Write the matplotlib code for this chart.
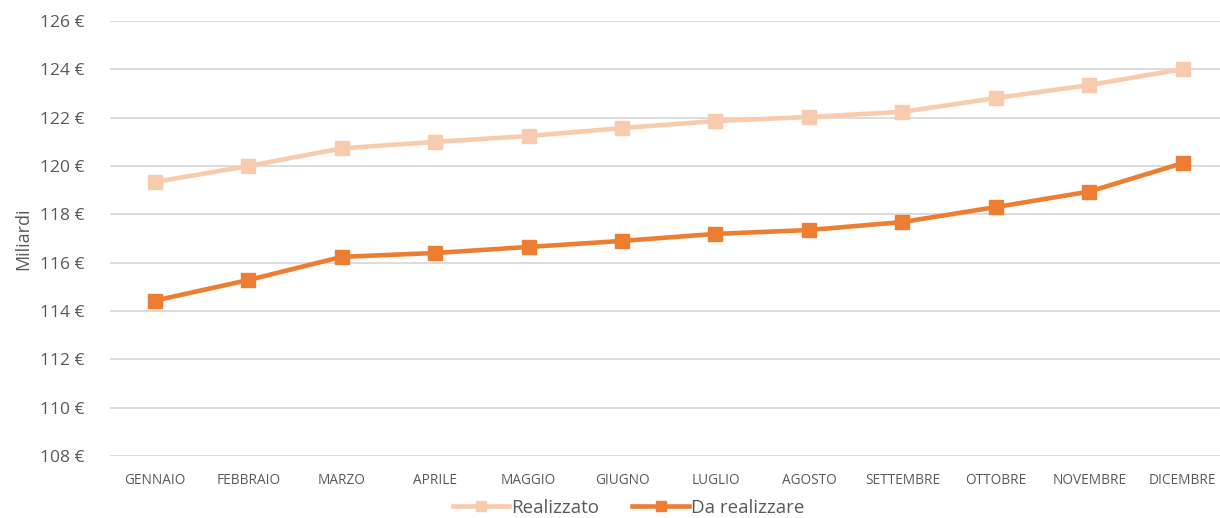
import matplotlib.pyplot as plt
from matplotlib.ticker import FuncFormatter

mesi = ['GENNAIO', 'FEBBRAIO', 'MARZO', 'APRILE', 'MAGGIO', 'GIUGNO',
        'LUGLIO', 'AGOSTO', 'SETTEMBRE', 'OTTOBRE', 'NOVEMBRE', 'DICEMBRE']
realizzato = [119.34, 120.0, 120.73, 121.0, 121.24, 121.57,
              121.86, 122.03, 122.24, 122.81, 123.35, 124.01]
da_realizzare = [114.43, 115.28, 116.24, 116.40, 116.65, 116.90,
                 117.19, 117.35, 117.68, 118.30, 118.94, 120.12]


def main():
    plt.rcParams['font.family'] = ['Open Sans', 'DejaVu Sans']
    fig = plt.figure(figsize=(12.2, 5.18), dpi=100)
    ax = fig.add_axes([110 / 1220, 62 / 518, 1110 / 1220, 435 / 518])

    x = list(range(len(mesi)))
    ax.plot(x, realizzato, color='#F8CBAD', lw=3.3, marker='s', ms=10.5,
            label='Realizzato')
    ax.plot(x, da_realizzare, color='#ED7D31', lw=3.3, marker='s', ms=10.5,
            label='Da realizzare')

    ax.set_ylim(108, 126)
    ax.set_yticks(range(108, 127, 2))
    ax.yaxis.set_major_formatter(FuncFormatter(lambda v, p: f'{v:.0f} €'))
    ax.set_xlim(-0.48, 11.40)
    ax.set_xticks(x)
    ax.set_xticklabels(mesi)

    ax.grid(axis='y', color='#D9D9D9', lw=1.3)
    ax.set_axisbelow(True)
    for s in ax.spines.values():
        s.set_visible(False)
    ax.tick_params(length=0, colors='#595959')
    ax.tick_params(axis='y', labelsize=12.5, pad=18)
    ax.tick_params(axis='x', labelsize=9.8, pad=12)
    ax.set_ylabel('Miliardi', fontsize=13, color='#595959', labelpad=6)

    fig.legend(loc='lower center', bbox_to_anchor=(0.515, -0.03), ncol=2,
               frameon=False, fontsize=13.5, labelcolor='#595959',
               handlelength=3.0, handletextpad=0.1, columnspacing=1.8,
               markerscale=0.75)

    fig.savefig('out.png', dpi=100)


if __name__ == '__main__':
    main()
